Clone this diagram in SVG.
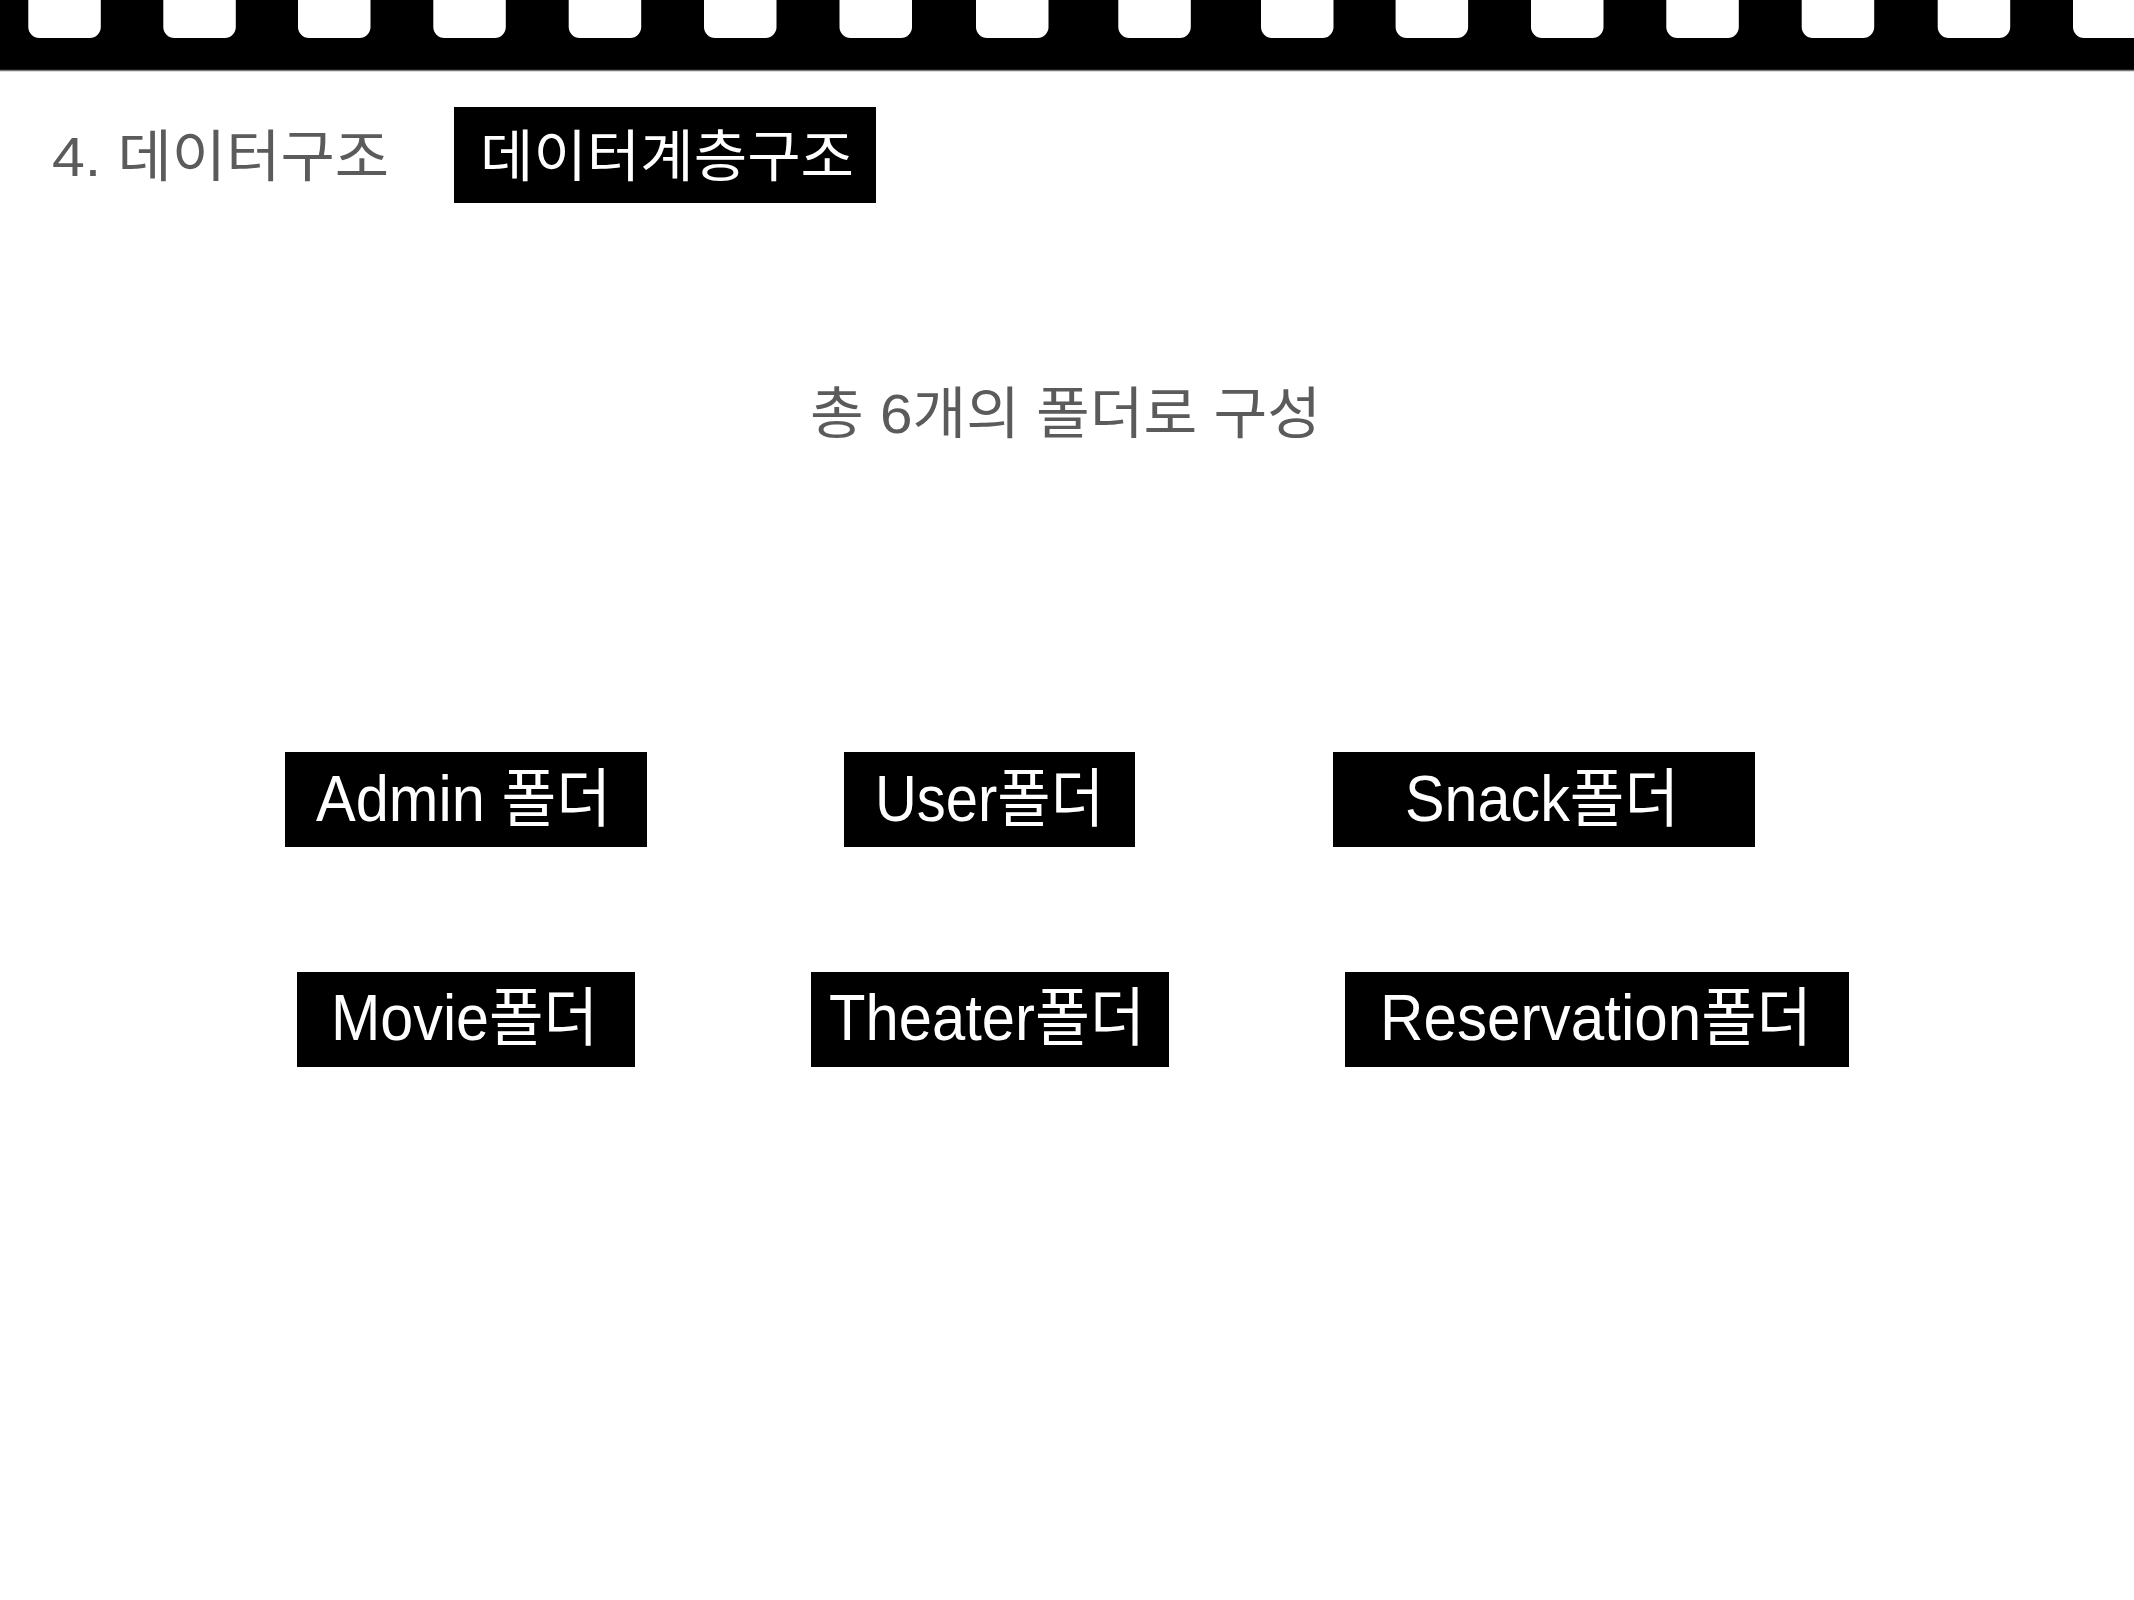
<svg xmlns="http://www.w3.org/2000/svg" width="2134" height="1600" viewBox="0 0 2134 1600">
<style>
.bg{fill:#ffffff}
.band{fill:#000000}
.hole{fill:#ffffff}
.edge{stroke:#777777;stroke-width:1.5}
.box{fill:#000000}
.lbl{font-family:"Liberation Sans","Noto Sans CJK KR",sans-serif;font-size:64px;fill:#ffffff;text-anchor:middle}
.head{font-family:"Liberation Sans","Noto Sans CJK KR",sans-serif;font-size:56px}
.gray{fill:#5b5b5b}
</style>
<defs>
<rect id="h" x="0" y="-20" width="72.5" height="58" rx="11" ry="11"/>
</defs>
<rect class="bg" x="0" y="0" width="2134" height="1600"/>
<g id="filmstrip">
<rect class="band" x="0" y="0" width="2134" height="70"/>
<line class="edge" x1="0" y1="70.5" x2="2134" y2="70.5"/>
<g class="hole">
<use href="#h" x="28.3"/>
<use href="#h" x="163.3"/>
<use href="#h" x="298"/>
<use href="#h" x="433.3"/>
<use href="#h" x="568.7"/>
<use href="#h" x="704"/>
<use href="#h" x="839.5"/>
<use href="#h" x="976"/>
<use href="#h" x="1118.3"/>
<use href="#h" x="1261"/>
<use href="#h" x="1395.6"/>
<use href="#h" x="1531"/>
<use href="#h" x="1666.3"/>
<use href="#h" x="1801.7"/>
<use href="#h" x="1937.7"/>
<use href="#h" x="2073"/>
</g>
</g>
<g id="title">
<text class="head gray" x="52" y="176" textLength="337" lengthAdjust="spacingAndGlyphs">4. 데이터구조</text>
</g>
<g id="title-tag">
<rect class="box" x="454" y="107" width="422" height="96"/>
<text class="head" fill="#ffffff" x="667" y="176" text-anchor="middle" textLength="374" lengthAdjust="spacingAndGlyphs">데이터계층구조</text>
</g>
<g id="subtitle">
<text class="head gray" x="1065.5" y="433" font-size="62" text-anchor="middle" textLength="511" lengthAdjust="spacingAndGlyphs">총 6개의 폴더로 구성</text>
</g>
<g id="connectors"></g>
<g id="node-admin">
<rect class="box" x="285" y="752" width="362" height="95"/>
<text class="lbl" x="463.5" y="821" textLength="295" lengthAdjust="spacingAndGlyphs">Admin 폴더</text>
</g>
<g id="node-user">
<rect class="box" x="844" y="752" width="291" height="95"/>
<text class="lbl" x="989.5" y="821" textLength="229" lengthAdjust="spacingAndGlyphs">User폴더</text>
</g>
<g id="node-snack">
<rect class="box" x="1333" y="752" width="422" height="95"/>
<text class="lbl" x="1542" y="821" textLength="274" lengthAdjust="spacingAndGlyphs">Snack폴더</text>
</g>
<g id="node-movie">
<rect class="box" x="297" y="972" width="338" height="95"/>
<text class="lbl" x="464.5" y="1040" textLength="267" lengthAdjust="spacingAndGlyphs">Movie폴더</text>
</g>
<g id="node-theater">
<rect class="box" x="811" y="972" width="358" height="95"/>
<text class="lbl" x="987" y="1040" textLength="316" lengthAdjust="spacingAndGlyphs">Theater폴더</text>
</g>
<g id="node-reservation">
<rect class="box" x="1345" y="972" width="504" height="95"/>
<text class="lbl" x="1596" y="1040" textLength="432" lengthAdjust="spacingAndGlyphs">Reservation폴더</text>
</g>
</svg>
